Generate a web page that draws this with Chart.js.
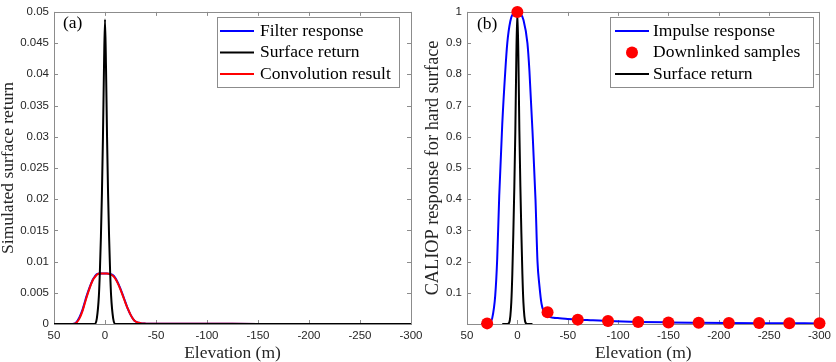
<!DOCTYPE html>
<html>
<head>
<meta charset="utf-8">
<script src="https://cdn.jsdelivr.net/npm/chart.js@4.4.1/dist/chart.umd.min.js"></script>
<style>
  body { margin: 0; background: #fff; }
  #wrap { position: relative; width: 836px; height: 362px; overflow: hidden; }
  canvas { position: absolute; top: 0; }
</style>
</head>
<body>
<div id="wrap">
  <canvas id="chartA" width="430" height="362" style="left:0px"></canvas>
  <canvas id="chartB" width="416" height="362" style="left:420px"></canvas>
</div>
<script>
// ---- panel (a) ----
const elevA = [50, 40, 35, 30, 28, 25, 22, 20, 18, 15, 12, 10, 8, 5, 2, 0, -2, -5, -8, -10, -12, -15, -18, -20, -22, -25, -28, -30, -33, -36, -40, -50, -75, -100, -150, -200, -250, -300];
const filterA = [0, 0, 0, 0.00006, 0.0003, 0.0011, 0.0023, 0.0034, 0.0045, 0.0059, 0.0071, 0.0076, 0.008, 0.0081, 0.0081, 0.0081, 0.0081, 0.008, 0.0078, 0.0074, 0.0068, 0.0057, 0.0044, 0.0035, 0.0026, 0.0015, 0.0007, 0.0004, 0.0002, 0.0001, 0.00006, 0.00004, 0.00003, 0.00003, 0.00002, 0.00002, 0.00002, 0.00002];
const convA = [0, 0, 0, 0.00005, 0.0002, 0.0009, 0.0021, 0.0032, 0.0043, 0.0058, 0.007, 0.0075, 0.0079, 0.0081, 0.0081, 0.0081, 0.0081, 0.008, 0.0077, 0.0073, 0.0067, 0.0056, 0.0043, 0.0034, 0.0026, 0.0015, 0.0007, 0.0004, 0.0002, 0.0001, 0.00006, 0.00004, 0.00003, 0.00003, 0.00002, 0.00002, 0.00002, 0.00002];
const elevSurfA = [50, 12, 10, 8, 6, 5, 4, 3, 2, 1, 0, -1, -2, -3, -4, -5, -6, -8, -10, -12, -300];
const surfA = [0, 0, 0, 0.0009, 0.0045, 0.0085, 0.014, 0.021, 0.03, 0.041, 0.0488, 0.041, 0.03, 0.021, 0.014, 0.0085, 0.0045, 0.0009, 0, 0, 0];

// ---- panel (b) ----
const elevB = [36, 33, 30, 27, 25, 22, 20, 18, 15, 12, 10, 7, 4, 0, -3, -6, -10, -12, -15, -18, -20, -22, -24, -26, -28, -30, -32, -36, -40, -50, -60, -75, -90, -120, -150, -180, -210, -240, -270, -300];
const impulseB = [0, 0.0005, 0.002, 0.006, 0.018, 0.09, 0.21, 0.41, 0.64, 0.81, 0.9, 0.97, 0.995, 1.0, 0.995, 0.975, 0.9, 0.81, 0.62, 0.4, 0.2, 0.12, 0.065, 0.042, 0.033, 0.027, 0.023, 0.02, 0.019, 0.016, 0.014, 0.012, 0.0098, 0.0068, 0.0052, 0.0042, 0.0034, 0.0028, 0.0024, 0.002];
const sampleX = [30, 0, -30, -60, -90, -120, -150, -180, -210, -240, -270, -300];
const sampleY = [0.002, 1.0, 0.038, 0.014, 0.0096, 0.0066, 0.005, 0.004, 0.0033, 0.003, 0.0025, 0.0022];
const elevSurfB = [15, 10, 8, 6, 5, 4, 3, 2, 1, 0, -1, -2, -3, -4, -5, -6, -8, -10, -15];
const surfB = [0, 0, 0.005, 0.07, 0.16, 0.29, 0.44, 0.62, 0.86, 1.0, 0.86, 0.62, 0.44, 0.29, 0.16, 0.07, 0.005, 0, 0];

const xTicks = [50, 0, -50, -100, -150, -200, -250, -300];

const AXIS = "#8c8c8c";
const TEXT = "#262626";
const SERIF = "'Liberation Serif', 'Times New Roman', serif";
const SANS = "'Liberation Sans', Arial, sans-serif";

function pts(xs, ys) {
  return xs.map((x, i) => ({ x: x, y: ys[i] }));
}

function fmt(v) {
  return String(parseFloat(Number(v).toFixed(4)));
}

// box around the plot with inward ticks on all four sides
const framePlugin = {
  id: "frame",
  beforeDatasetsDraw(chart) {
    const { ctx, chartArea: a, scales } = chart;
    ctx.save();
    ctx.strokeStyle = AXIS;
    ctx.lineWidth = 1;
    ctx.strokeRect(Math.round(a.left) + 0.5, Math.round(a.top) + 0.5,
      Math.round(a.right - a.left), Math.round(a.bottom - a.top));
    ctx.beginPath();
    scales.x.ticks.forEach((t) => {
      const px = Math.round(scales.x.getPixelForValue(t.value)) + 0.5;
      ctx.moveTo(px, a.bottom); ctx.lineTo(px, a.bottom - 4);
      ctx.moveTo(px, a.top); ctx.lineTo(px, a.top + 4);
    });
    scales.y.ticks.forEach((t) => {
      const py = Math.round(scales.y.getPixelForValue(t.value)) + 0.5;
      ctx.moveTo(a.left, py); ctx.lineTo(a.left + 4, py);
      ctx.moveTo(a.right, py); ctx.lineTo(a.right - 4, py);
    });
    ctx.stroke();
    ctx.restore();
  },
};

// legend box + panel letter
const boxLegend = {
  id: "boxLegend",
  afterDraw(chart, args, opts) {
    const ctx = chart.ctx;
    ctx.save();
    ctx.fillStyle = "#fff";
    ctx.fillRect(opts.x, opts.y, opts.w, opts.h);
    ctx.strokeStyle = AXIS;
    ctx.lineWidth = 1;
    ctx.strokeRect(opts.x + 0.5, opts.y + 0.5, opts.w, opts.h);
    ctx.font = "17.5px " + SERIF;
    ctx.textBaseline = "middle";
    opts.items.forEach((idx, row) => {
      const ds = chart.data.datasets[idx];
      const cy = opts.y + 14 + row * 21.5;
      if (ds.showLine === false) {
        ctx.fillStyle = ds.backgroundColor;
        ctx.beginPath();
        ctx.arc((opts.lx0 + opts.lx1) / 2, cy, 6, 0, Math.PI * 2);
        ctx.fill();
      } else {
        ctx.strokeStyle = ds.borderColor;
        ctx.lineWidth = 2;
        ctx.beginPath();
        ctx.moveTo(opts.lx0, cy);
        ctx.lineTo(opts.lx1, cy);
        ctx.stroke();
      }
      ctx.fillStyle = "#000";
      ctx.fillText(ds.label, opts.tx, cy);
    });
    ctx.fillStyle = "#000";
    ctx.fillText(opts.tag, opts.tagX, opts.tagY);
    ctx.restore();
  },
};

function lineSet(label, data, color, order) {
  return {
    label: label,
    data: data,
    borderColor: color,
    backgroundColor: color,
    borderWidth: 2,
    pointRadius: 0,
    cubicInterpolationMode: "monotone",
    order: order,
  };
}

function makeOptions(yMin, yMax, yStep, yTitle, yTitleSize, yWidth, yTitlePad, rightPad, legend, hideZero) {
  return {
    responsive: false,
    animation: false,
    devicePixelRatio: 1,
    layout: { padding: { top: 6, right: rightPad, left: 0, bottom: 0 } },
    plugins: {
      legend: { display: false },
      tooltip: { enabled: false },
      boxLegend: legend,
    },
    scales: {
      x: {
        type: "linear",
        reverse: true,
        min: -300,
        max: 50,
        grid: { display: false, drawTicks: false },
        border: { display: false },
        afterBuildTicks: (s) => { s.ticks = xTicks.map((v) => ({ value: v })); },
        ticks: {
          autoSkip: false,
          maxRotation: 0,
          padding: 5,
          color: TEXT,
          font: { family: SANS, size: 11.5 },
          callback: (v) => fmt(v),
        },
        title: {
          display: true,
          text: "Elevation (m)",
          color: TEXT,
          font: { family: SERIF, size: 17.5, lineHeight: 1 },
          padding: { top: 0, bottom: 0 },
        },
        afterFit: (s) => { s.height = 38; },
      },
      y: {
        type: "linear",
        min: yMin,
        max: yMax,
        grid: { display: false, drawTicks: false },
        border: { display: false },
        ticks: {
          stepSize: yStep,
          autoSkip: false,
          padding: 5,
          color: TEXT,
          font: { family: SANS, size: 11.5 },
          callback: (v) => (hideZero && v === 0 ? "" : fmt(v)),
        },
        title: {
          display: true,
          text: yTitle,
          color: TEXT,
          font: { family: SERIF, size: yTitleSize, lineHeight: 1 },
          padding: { top: yTitlePad, bottom: 0 },
        },
        afterFit: (s) => { s.width = yWidth; },
      },
    },
  };
}

new Chart(document.getElementById("chartA"), {
  type: "line",
  data: {
    datasets: [
      lineSet("Filter response", pts(elevA, filterA), "#0000ff", 3),
      lineSet("Surface return", pts(elevSurfA, surfA), "#000000", 1),
      lineSet("Convolution result", pts(elevA, convA), "#ff0000", 2),
    ],
  },
  options: makeOptions(0, 0.05, 0.005, "Simulated surface return", 17.5, 54, 0, 19, {
    x: 217, y: 17, w: 182, h: 70, lx0: 220, lx1: 254, tx: 260,
    items: [0, 1, 2], tag: "(a)", tagX: 63, tagY: 23,
  }, false),
  plugins: [framePlugin, boxLegend],
});

new Chart(document.getElementById("chartB"), {
  type: "line",
  data: {
    datasets: [
      lineSet("Impulse response", pts(elevB, impulseB), "#0000ff", 3),
      {
        label: "Downlinked samples",
        data: pts(sampleX, sampleY),
        showLine: false,
        pointRadius: 6,
        pointBorderWidth: 0,
        backgroundColor: "#ff0000",
        borderColor: "#ff0000",
        clip: false,
        order: 0,
      },
      lineSet("Surface return", pts(elevSurfB, surfB), "#000000", 1),
    ],
  },
  options: makeOptions(0, 1, 0.1, "CALIOP response for hard surface", 18.3, 47, 4.5, 12, {
    x: 190, y: 17, w: 203, h: 70, lx0: 195, lx1: 229, tx: 233,
    items: [0, 1, 2], tag: "(b)", tagX: 57, tagY: 24,
  }, true),
  plugins: [framePlugin, boxLegend],
});
</script>
</body>
</html>
